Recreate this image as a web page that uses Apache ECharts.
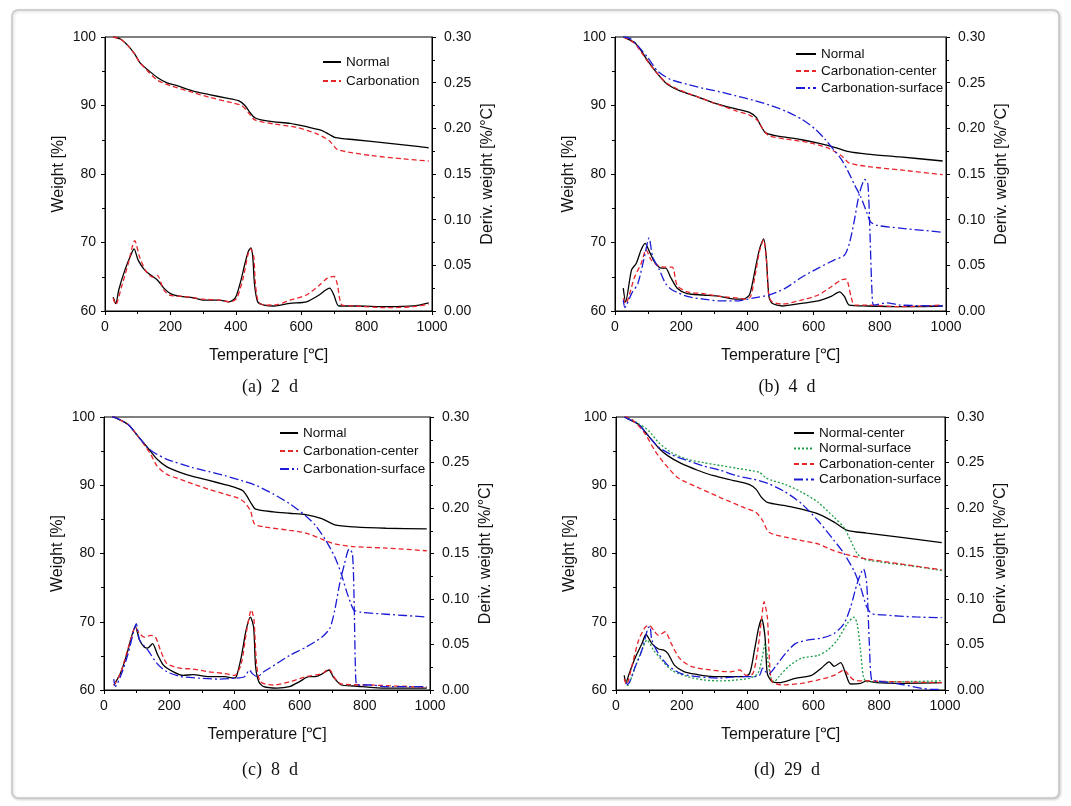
<!DOCTYPE html>
<html><head><meta charset="utf-8">
<script src="https://cdn.jsdelivr.net/npm/echarts@6/dist/echarts.min.js"></script>
<style>html,body{margin:0;padding:0;background:#fff}#c{width:1071px;height:806px}</style>
</head><body><div id="c"></div>
<script>
// ---- axis ticks ----
const tempTicks = [0, 200, 400, 600, 800, 1000];
const weightRange = [60, 100];
const derivRange = [0, 0.30];
const captions = ['(a)  2  d', '(b)  4  d', '(c)  8  d', '(d)  29  d'];

// ---- panel (a) 2 d ----
const aNormalTGA = [[25,100],[47,99.7],[71,98.7],[91,97.5],[106,96.3],[131,95.2],[160,94.1],[190,93.3],[220,92.9],[270,92.1],[319,91.6],[368,91.1],[408,90.7],[428,90.0],[443,89.0],[458,88.2],[477,87.9],[517,87.6],[566,87.4],[616,86.9],[660,86.4],[685,85.8],[705,85.3],[764,85.0],[863,84.5],[962,84.0],[990,83.8]];
const aCarbTGA = [[25,100],[47,99.7],[71,98.7],[91,97.5],[106,96.3],[121,95.5],[160,93.7],[200,92.9],[269,91.9],[319,91.2],[388,90.4],[418,90.0],[438,89.0],[458,87.9],[517,87.3],[586,86.8],[646,85.9],[685,84.9],[710,83.6],[745,83.2],[814,82.7],[913,82.2],[990,81.9]];
const aNormalDTG = [[25,0.015],[33,0.008],[42,0.023],[61,0.045],[81,0.063],[89,0.068],[101,0.056],[121,0.045],[141,0.039],[160,0.034],[180,0.025],[200,0.019],[230,0.016],[269,0.0145],[299,0.012],[349,0.012],[378,0.010],[398,0.014],[413,0.030],[428,0.052],[438,0.065],[446,0.069],[452,0.059],[457,0.030],[467,0.010],[487,0.0065],[517,0.0055],[566,0.0084],[616,0.010],[655,0.0175],[675,0.023],[687,0.025],[700,0.0175],[715,0.0055],[764,0.0055],[863,0.0047],[943,0.0055],[990,0.009]];
const aCarbDTG = [[25,0.014],[33,0.007],[51,0.027],[71,0.052],[91,0.077],[106,0.059],[126,0.043],[146,0.037],[160,0.039],[180,0.023],[200,0.017],[240,0.016],[299,0.013],[349,0.012],[383,0.010],[403,0.014],[423,0.037],[438,0.063],[446,0.068],[455,0.059],[460,0.030],[469,0.010],[487,0.0065],[527,0.007],[566,0.012],[616,0.0175],[655,0.028],[680,0.036],[700,0.038],[710,0.030],[725,0.0065],[764,0.0055],[863,0.0036],[943,0.0047],[990,0.0076]];

// ---- panel (b) 4 d ----
const bNormalTGA = [[25,100],[30,99.9],[59,99.2],[79,98.0],[99,96.5],[129,94.6],[158,93.1],[198,92.1],[248,91.3],[297,90.4],[366,89.5],[406,89.0],[426,88.3],[441,87.0],[455,86.0],[485,85.6],[564,85.0],[614,84.5],[663,83.9],[703,83.3],[762,82.9],[861,82.5],[990,81.9]];
const bCenterTGA = [[25,100],[59,99.1],[79,97.8],[99,96.4],[129,94.6],[158,93.2],[198,92.2],[248,91.3],[297,90.4],[366,89.2],[406,88.6],[431,87.8],[446,86.6],[465,85.6],[515,85.1],[584,84.6],[643,83.8],[683,82.7],[708,81.6],[762,81.1],[861,80.6],[990,79.9]];
const bSurfTGA = [[25,100],[45,99.8],[69,98.7],[99,97.0],[129,95.0],[168,93.8],[218,93.1],[267,92.5],[317,92.0],[366,91.4],[416,90.8],[465,90.1],[515,89.2],[564,88.0],[604,86.6],[634,85.1],[663,83.4],[683,82.2],[703,80.5],[723,78.5],[743,76.6],[762,74.2],[772,73.0],[792,72.5],[861,72.1],[990,71.5]];
const bNormalDTG = [[25,0.025],[32,0.010],[50,0.045],[64,0.052],[79,0.067],[91,0.074],[104,0.065],[119,0.054],[139,0.047],[153,0.047],[168,0.037],[188,0.025],[218,0.019],[267,0.0175],[317,0.016],[366,0.013],[386,0.013],[406,0.0175],[421,0.041],[436,0.067],[449,0.079],[457,0.059],[465,0.016],[475,0.0084],[505,0.0055],[564,0.0084],[614,0.011],[653,0.016],[678,0.021],[693,0.016],[708,0.0065],[762,0.0055],[861,0.0047],[990,0.0055]];
const bCenterDTG = [[25,0.014],[32,0.008],[59,0.037],[79,0.052],[94,0.067],[109,0.056],[129,0.050],[153,0.048],[173,0.048],[188,0.028],[218,0.021],[267,0.019],[317,0.016],[376,0.014],[396,0.013],[410,0.016],[423,0.038],[437,0.066],[449,0.078],[457,0.058],[465,0.016],[475,0.010],[505,0.0076],[564,0.012],[614,0.0175],[653,0.0265],[683,0.034],[698,0.035],[713,0.016],[723,0.0065],[762,0.0065],[861,0.0047],[990,0.0065]];
const bSurfDTG = [[25,0.012],[30,0.004],[50,0.019],[69,0.030],[87,0.056],[103,0.080],[114,0.059],[134,0.045],[153,0.030],[173,0.023],[218,0.016],[267,0.013],[317,0.011],[366,0.011],[416,0.014],[465,0.0175],[515,0.025],[564,0.037],[614,0.047],[663,0.056],[693,0.061],[708,0.074],[723,0.099],[738,0.128],[755,0.144],[764,0.139],[770,0.088],[777,0.016],[782,0.0065],[822,0.009],[861,0.0065],[990,0.0055]];

// ---- panel (c) 8 d ----
const cNormalTGA = [[25,100],[35,99.9],[74,98.9],[104,97.2],[134,95.5],[163,93.8],[193,92.7],[233,91.9],[272,91.3],[322,90.7],[371,90.1],[401,89.7],[426,89.2],[441,88.2],[452,87.3],[465,86.5],[520,86.1],[569,85.9],[619,85.7],[668,85.1],[708,84.2],[767,83.9],[866,83.7],[990,83.6]];
const cCenterTGA = [[25,100],[35,99.9],[74,98.9],[104,97.2],[134,95.2],[144,94.5],[163,92.8],[193,91.6],[233,90.9],[272,90.2],[322,89.4],[371,88.7],[411,88.1],[431,87.5],[449,86.3],[462,84.3],[490,83.9],[569,83.4],[619,83.0],[668,82.1],[708,81.4],[767,81.0],[866,80.8],[990,80.4]];
const cSurfTGA = [[25,100],[35,99.9],[74,98.9],[104,97.2],[134,95.5],[153,94.8],[193,93.8],[272,92.6],[322,92.0],[371,91.4],[421,90.7],[470,89.9],[520,88.7],[569,87.3],[619,85.5],[649,84.1],[678,82.1],[708,79.5],[728,77.0],[743,74.6],[757,72.7],[767,71.7],[787,71.4],[866,71.1],[990,70.7]];
const cNormalDTG = [[30,0.005],[50,0.018],[69,0.038],[84,0.058],[96,0.070],[109,0.055],[124,0.047],[134,0.046],[149,0.051],[163,0.040],[183,0.027],[213,0.020],[243,0.016],[272,0.017],[322,0.0146],[371,0.0146],[396,0.013],[406,0.0146],[421,0.036],[436,0.066],[449,0.080],[459,0.069],[465,0.026],[475,0.009],[490,0.0036],[530,0.002],[569,0.0036],[599,0.009],[629,0.0146],[649,0.0146],[668,0.0175],[690,0.022],[703,0.0146],[728,0.0055],[767,0.0044],[866,0.002],[990,0.002]];
const cCenterDTG = [[30,0.005],[50,0.018],[69,0.040],[84,0.058],[96,0.069],[109,0.062],[124,0.058],[144,0.060],[158,0.058],[173,0.044],[193,0.029],[233,0.024],[272,0.023],[322,0.020],[371,0.018],[401,0.016],[421,0.029],[438,0.066],[452,0.088],[460,0.077],[468,0.029],[480,0.009],[520,0.0055],[569,0.009],[619,0.0146],[668,0.018],[690,0.023],[708,0.013],[728,0.0066],[817,0.0055],[990,0.003]];
const cSurfDTG = [[30,0.012],[35,0.004],[54,0.018],[74,0.040],[92,0.066],[99,0.073],[109,0.055],[134,0.044],[163,0.029],[193,0.020],[233,0.015],[292,0.013],[352,0.012],[401,0.013],[431,0.0146],[446,0.022],[455,0.018],[470,0.0146],[490,0.020],[530,0.029],[569,0.038],[619,0.047],[668,0.058],[693,0.068],[708,0.088],[723,0.117],[738,0.139],[752,0.155],[762,0.150],[767,0.102],[772,0.0146],[777,0.0055],[817,0.0055],[866,0.0036],[990,0.0036]];

// ---- panel (d) 29 d ----
const dNormalCTGA = [[25,100],[30,99.9],[69,98.9],[99,97.2],[129,95.5],[158,94.3],[198,93.2],[248,92.2],[297,91.4],[366,90.6],[406,90.1],[426,89.4],[441,88.3],[460,87.5],[515,87.0],[564,86.5],[614,85.8],[663,84.6],[703,83.4],[762,83.0],[861,82.4],[990,81.6]];
const dNormalSTGA = [[25,100],[30,100],[69,99.0],[99,98.0],[129,96.3],[168,94.8],[218,93.8],[267,93.3],[317,92.9],[366,92.5],[416,92.1],[436,91.9],[455,91.1],[475,90.7],[515,90.1],[564,89.0],[614,87.5],[663,85.3],[693,83.8],[713,81.9],[733,80.0],[752,79.2],[812,78.7],[911,78.1],[990,77.5]];
const dCarbCTGA = [[25,100],[30,100],[59,99.2],[89,97.5],[119,95.0],[149,93.1],[188,91.1],[248,89.7],[317,88.2],[386,86.8],[426,86.0],[446,84.8],[465,83.1],[515,82.4],[564,81.9],[614,81.4],[663,80.4],[713,79.7],[762,79.2],[861,78.5],[990,77.6]];
const dCarbSTGA = [[25,100],[30,99.9],[69,98.9],[99,97.2],[129,95.6],[168,94.5],[218,93.6],[267,92.8],[317,92.2],[366,91.4],[416,90.9],[465,90.2],[515,89.0],[564,87.3],[614,84.8],[663,81.9],[693,80.0],[723,77.5],[743,75.1],[762,72.2],[777,71.2],[812,71.0],[911,70.7],[990,70.6]];
const dNormalCDTG = [[25,0.016],[30,0.008],[40,0.018],[59,0.036],[79,0.051],[91,0.061],[109,0.051],[129,0.045],[144,0.044],[158,0.040],[178,0.027],[208,0.020],[248,0.017],[287,0.015],[347,0.0146],[386,0.0146],[406,0.018],[421,0.044],[434,0.069],[443,0.078],[453,0.058],[460,0.018],[475,0.009],[495,0.008],[545,0.0128],[594,0.016],[624,0.024],[648,0.031],[663,0.026],[683,0.030],[698,0.018],[713,0.0066],[743,0.0073],[762,0.010],[792,0.008],[861,0.0073],[990,0.008]];
const dNormalSDTG = [[30,0.010],[35,0.005],[59,0.026],[79,0.044],[94,0.055],[114,0.044],[139,0.033],[168,0.022],[218,0.0146],[267,0.011],[317,0.010],[366,0.011],[406,0.013],[431,0.018],[443,0.033],[453,0.051],[460,0.036],[470,0.0146],[480,0.009],[495,0.0146],[525,0.026],[564,0.035],[614,0.038],[644,0.044],[673,0.055],[703,0.073],[723,0.080],[733,0.073],[743,0.044],[752,0.0146],[762,0.009],[812,0.009],[990,0.010]];
const dCarbCDTG = [[25,0.012],[32,0.006],[50,0.029],[69,0.055],[89,0.069],[101,0.071],[114,0.066],[129,0.060],[149,0.064],[168,0.051],[193,0.035],[228,0.026],[287,0.022],[347,0.020],[376,0.022],[396,0.016],[416,0.018],[431,0.044],[443,0.080],[450,0.097],[460,0.080],[467,0.029],[475,0.009],[505,0.0055],[564,0.0073],[614,0.011],[663,0.016],[693,0.022],[708,0.016],[723,0.011],[762,0.010],[861,0.009],[990,0.008]];
const dCarbSDTG = [[30,0.008],[35,0.006],[59,0.026],[79,0.044],[97,0.068],[103,0.070],[109,0.055],[129,0.040],[158,0.027],[198,0.018],[248,0.0146],[317,0.013],[366,0.0146],[416,0.0146],[436,0.016],[446,0.024],[455,0.020],[465,0.018],[485,0.026],[515,0.040],[545,0.051],[584,0.055],[624,0.057],[663,0.062],[693,0.073],[713,0.091],[733,0.117],[752,0.133],[762,0.117],[770,0.051],[777,0.011],[792,0.010],[861,0.0066],[960,0.0007],[990,0.0007]];

// ---- styles & layout ----
const STY = {
  black: {color:'#000000', type:'solid'},
  red:   {color:'#e8242b', type:[5,3]},
  blue:  {color:'#1b1bd6', type:[9,3,2,3]},
  green: {color:'#1e9f48', type:[2,2]}
};
const grids = [
  {left:105, top:37, width:327, height:274},
  {left:615, top:37, width:331, height:274},
  {left:104, top:417, width:326, height:273},
  {left:616, top:417, width:329, height:273}
];
const panels = [
  {legend:{left:317, top:50, itemWidth:18, gap:5}, curves:[
    ['Normal','black',aNormalTGA,aNormalDTG],
    ['Carbonation','red',aCarbTGA,aCarbDTG]]},
  {legend:{left:790, top:42, itemWidth:20, gap:3}, curves:[
    ['Normal','black',bNormalTGA,bNormalDTG],
    ['Carbonation-center','red',bCenterTGA,bCenterDTG],
    ['Carbonation-surface','blue',bSurfTGA,bSurfDTG]]},
  {legend:{left:274, top:421, itemWidth:18, gap:4}, curves:[
    ['Normal','black',cNormalTGA,cNormalDTG],
    ['Carbonation-center','red',cCenterTGA,cCenterDTG],
    ['Carbonation-surface','blue',cSurfTGA,cSurfDTG]]},
  {legend:{left:788, top:421, itemWidth:20, gap:1.5}, curves:[
    ['Normal-center','black',dNormalCTGA,dNormalCDTG],
    ['Normal-surface','green',dNormalSTGA,dNormalSDTG],
    ['Carbonation-center','red',dCarbCTGA,dCarbCDTG],
    ['Carbonation-surface','blue',dCarbSTGA,dCarbSDTG]]}
];
const captionPos = [[270,387],[787,387],[270,770],[787,770]];

const FONT = '"Liberation Sans", Arial, sans-serif';
const axisBase = {
  axisLine:{show:true, onZero:false, lineStyle:{color:'#000', width:1}},
  axisTick:{show:true, length:4, lineStyle:{color:'#000'}},
  minorTick:{show:true, splitNumber:2, length:3, lineStyle:{color:'#000'}},
  splitLine:{show:false},
  axisLabel:{fontSize:14, color:'#111', fontFamily:FONT},
  nameTextStyle:{fontSize:16, color:'#111', fontFamily:FONT}
};

const xAxis = [], yAxis = [], series = [], legend = [], graphic = [];
graphic.push({type:'rect', z:-10, shape:{x:12, y:10, width:1047, height:788, r:6},
  style:{fill:'#fff', stroke:'#c6c6c6', lineWidth:1.5, shadowBlur:3, shadowOffsetX:1, shadowOffsetY:1, shadowColor:'rgba(0,0,0,0.18)'}});

panels.forEach((p, i) => {
  xAxis.push(Object.assign({}, axisBase, {type:'value', gridIndex:i, min:tempTicks[0], max:tempTicks[tempTicks.length-1],
    interval:200, name:'Temperature [℃]', nameLocation:'middle', nameGap:37,
    axisLabel:Object.assign({}, axisBase.axisLabel, {margin:9, formatter:v => String(v)})}));
  yAxis.push(Object.assign({}, axisBase, {type:'value', gridIndex:i, position:'left', min:weightRange[0], max:weightRange[1],
    interval:10, name:'Weight [%]', nameLocation:'middle', nameRotate:90, nameGap:38,
    axisLabel:Object.assign({}, axisBase.axisLabel, {margin:9})}));
  yAxis.push(Object.assign({}, axisBase, {type:'value', gridIndex:i, position:'right', min:derivRange[0], max:derivRange[1],
    interval:0.05, name:'Deriv. weight [%/°C]', nameLocation:'middle', nameRotate:90, nameGap:48,
    axisLabel:Object.assign({}, axisBase.axisLabel, {margin:12, formatter:v => v.toFixed(2)})}));
  legend.push({orient:'vertical', left:p.legend.left, top:p.legend.top, itemWidth:p.legend.itemWidth, itemHeight:12,
    itemGap:p.legend.gap, data:p.curves.map(c => c[0]), selectedMode:false,
    itemStyle:{opacity:0, borderWidth:0},
    textStyle:{fontSize:13.5, color:'#111', fontFamily:FONT}});
  p.curves.forEach(c => {
    const st = STY[c[1]];
    [c[2], c[3]].forEach((d, k) => {
      series.push({type:'line', name:c[0], xAxisIndex:i, yAxisIndex:2*i + k, data:d,
        showSymbol:false, symbol:'none', smooth:0.25, animation:false,
        itemStyle:{color:st.color},
        lineStyle:{color:st.color, width:1.3, type:st.type}});
    });
  });
  graphic.push({type:'text', x:captionPos[i][0], y:captionPos[i][1],
    style:{text:captions[i], fill:'#111', font:'18px "Liberation Serif", "Times New Roman", serif', textAlign:'center', textVerticalAlign:'middle'}});
});

const chart = echarts.init(document.getElementById('c'), null, {renderer:'canvas'});
chart.setOption({
  backgroundColor:'#ffffff',
  animation:false,
  grid: grids.map(g => Object.assign({show:true, borderColor:'#000', borderWidth:1, backgroundColor:'transparent'}, g)),
  xAxis, yAxis, series, legend, graphic
});
</script></body></html>
